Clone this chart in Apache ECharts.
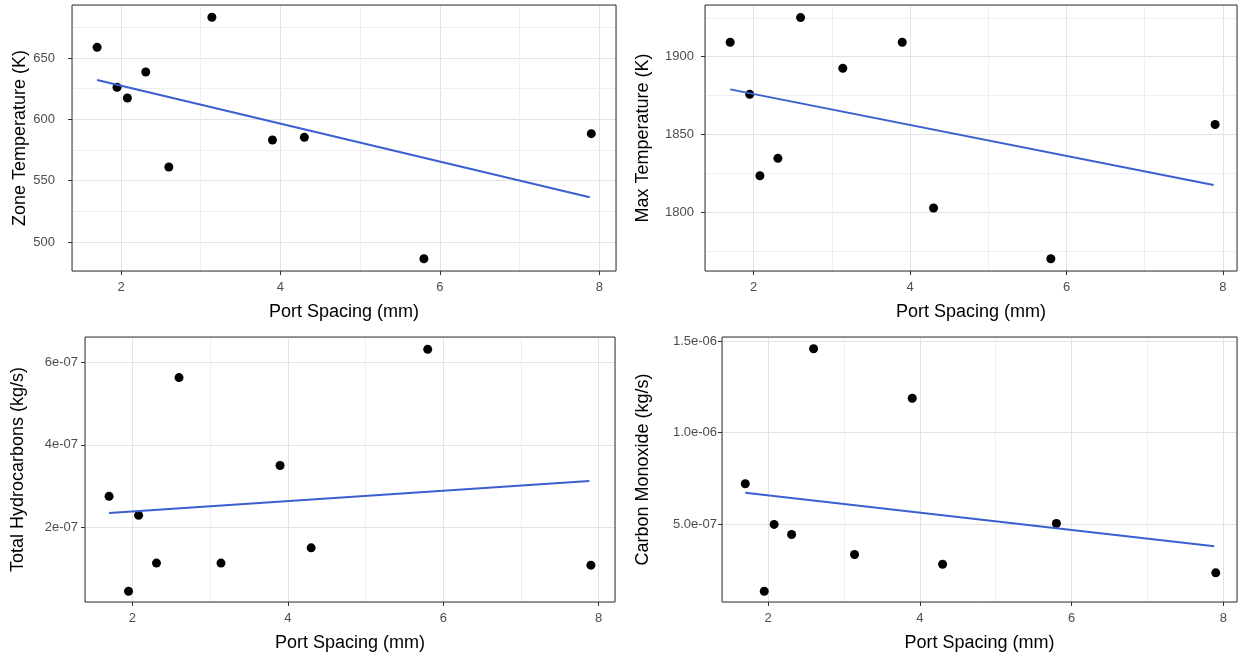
<!DOCTYPE html>
<html>
<head>
    <meta charset="utf-8">
    <title>Port Spacing</title>
    <script src="https://cdn.jsdelivr.net/npm/echarts@6/dist/echarts.min.js"></script>
    <style>
        body { margin: 0; background: #fff; }
        #main { width: 1238px; height: 656px; }
    </style>
</head>
<body>
    <div id="main"></div>
    <script type="text/javascript">
        // port spacing (mm), same for every panel
        var portSpacing = [1.7, 1.95, 2.08, 2.31, 2.6, 3.14, 3.9, 4.3, 5.8, 7.9];

        var zoneTemp = [658.7, 626.1, 617.4, 638.6, 561.1, 683.2, 583.1, 585.3, 486.3, 588.3];
        var maxTemp = [1909.3, 1875.8, 1823.5, 1834.7, 1925.1, 1892.5, 1909.3, 1802.8, 1770.2, 1856.4];
        var totalHC = [2.75e-7, 0.445e-7, 2.29e-7, 1.13e-7, 5.635e-7, 1.13e-7, 3.5e-7, 1.5e-7, 6.32e-7, 1.08e-7];
        var carbonMono = [7.22e-7, 1.355e-7, 5.0e-7, 4.45e-7, 14.58e-7, 3.36e-7, 11.88e-7, 2.83e-7, 5.05e-7, 2.36e-7];

        // fitted line ends [x, y]
        var zoneFit = [[1.7, 632.0], [7.88, 536.4]];
        var maxFit = [[1.7, 1879.0], [7.88, 1817.5]];
        var hcFit = [[1.7, 2.348e-7], [7.88, 3.125e-7]];
        var coFit = [[1.7, 6.73e-7], [7.88, 3.81e-7]];

        // axis ranges
        var xRanges = [[1.385, 8.21], [1.378, 8.18], [1.39, 8.21], [1.393, 8.18]];
        var yRanges = [[476.3, 693.2], [1762.3, 1933.2], [0.185e-7, 6.62e-7], [0.77e-7, 15.22e-7]];
        var yStep = [50, 50, 2e-7, 5e-7];
        var xMinor = [3, 5, 7];
        var yMinor = [
            [525, 575, 625, 675],
            [1775, 1825, 1875, 1925],
            [1e-7, 3e-7, 5e-7],
            [2.5e-7, 7.5e-7, 12.5e-7]
        ];
        var yTitles = ['Zone Temperature (K)', 'Max Temperature (K)', 'Total Hydrocarbons (kg/s)', 'Carbon Monoxide (kg/s)'];
        var xTitle = 'Port Spacing (mm)';

        var panelY = [zoneTemp, maxTemp, totalHC, carbonMono];
        var panelFit = [zoneFit, maxFit, hcFit, coFit];

        // layout of the four panels
        var grids = [
            { left: 72, top: 5, width: 544, height: 266 },
            { left: 705, top: 5, width: 532, height: 266 },
            { left: 85, top: 337, width: 530, height: 265 },
            { left: 722, top: 337, width: 515, height: 265 }
        ];
        var yLabelMargin = [17, 11, 7, 5];
        var yNameGap = [42, 53, 58, 70];

        var font = 'Liberation Sans, Arial, sans-serif';

        function plainLabel(v) {
            return String(Math.round(v * 1000) / 1000);
        }
        function sciLabel(digits) {
            return function (v) {
                return v.toExponential(digits).replace(/e([+-])(\d)$/, 'e$10$2');
            };
        }
        var yFormatters = [plainLabel, plainLabel, sciLabel(0), sciLabel(1)];

        var option = {
            backgroundColor: '#fff',
            animation: false,
            grid: [],
            xAxis: [],
            yAxis: [],
            series: []
        };

        for (var i = 0; i < 4; i++) {
            var g = grids[i];
            option.grid.push({
                left: g.left, top: g.top, width: g.width, height: g.height,
                show: true, borderColor: '#333333', borderWidth: 1,
                backgroundColor: 'transparent', z: 10
            });
            option.xAxis.push({
                type: 'value', gridIndex: i,
                min: xRanges[i][0], max: xRanges[i][1],
                minInterval: 2, maxInterval: 2,
                name: xTitle, nameLocation: 'middle', nameGap: 32,
                nameTextStyle: { fontFamily: font, fontSize: 18, color: '#000' },
                axisLine: { show: false },
                axisTick: { show: true, length: 4, lineStyle: { color: '#333333' } },
                axisLabel: {
                    fontFamily: font, fontSize: 13, color: '#4d4d4d', margin: 10,
                    showMinLabel: false, showMaxLabel: false,
                    formatter: plainLabel
                },
                splitLine: { show: true, lineStyle: { color: '#e3e3e3', width: 1 } }
            });
            option.yAxis.push({
                type: 'value', gridIndex: i,
                min: yRanges[i][0], max: yRanges[i][1],
                minInterval: yStep[i], maxInterval: yStep[i],
                name: yTitles[i], nameLocation: 'middle', nameGap: yNameGap[i],
                nameTextStyle: { fontFamily: font, fontSize: 18, color: '#000' },
                axisLine: { show: false },
                axisTick: { show: true, length: 4, lineStyle: { color: '#333333' } },
                axisLabel: {
                    fontFamily: font, fontSize: 13, color: '#4d4d4d', margin: yLabelMargin[i],
                    showMinLabel: false, showMaxLabel: false,
                    formatter: yFormatters[i]
                },
                splitLine: { show: true, lineStyle: { color: '#e3e3e3', width: 1 } }
            });

            // minor grid lines
            var minorLines = [];
            xMinor.forEach(function (v) { minorLines.push({ xAxis: v }); });
            yMinor[i].forEach(function (v) { minorLines.push({ yAxis: v }); });
            option.series.push({
                type: 'line', xAxisIndex: i, yAxisIndex: i, data: [], z: 1,
                silent: true,
                markLine: {
                    silent: true, symbol: 'none', z: 1, animation: false,
                    label: { show: false },
                    lineStyle: { color: '#efefef', width: 1, type: 'solid' },
                    data: minorLines
                }
            });

            var pts = portSpacing.map(function (x, k) { return [x, panelY[i][k]]; });
            option.series.push({
                type: 'scatter', xAxisIndex: i, yAxisIndex: i,
                data: pts, symbolSize: 9, z: 3,
                itemStyle: { color: '#000', opacity: 1 }
            });
            option.series.push({
                type: 'line', xAxisIndex: i, yAxisIndex: i,
                data: panelFit[i], showSymbol: false, z: 4,
                lineStyle: { color: '#3a5fd0', width: 2 }
            });
        }

        var myChart = echarts.init(document.getElementById('main'));
        myChart.setOption(option);
    </script>
</body>
</html>
